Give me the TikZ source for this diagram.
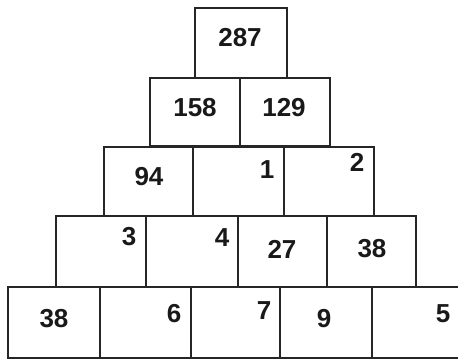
\documentclass[tikz,border=0pt]{standalone}
\usepackage{fontspec}
\setmainfont{Liberation Sans}
\begin{document}
\begin{tikzpicture}[x=1pt,y=-1pt,
  cell/.style={draw=black!85, line width=2pt, rectangle, inner sep=0pt, outer sep=0pt},
  num/.style={inner sep=0pt, font=\fontsize{26}{28}\selectfont\bfseries, text=black!90}]
\useasboundingbox (0,0) rectangle (458,360);
% row 1
\node[cell, minimum width=92pt, minimum height=70pt] (a1) at (241,43) {};
% row 2
\node[cell, minimum width=90pt, minimum height=68pt] (b1) at (195,112) {};
\node[cell, minimum width=90pt, minimum height=68pt] (b2) at (285,112) {};
% row 3
\node[cell, minimum width=89pt, minimum height=69pt] (c1) at (148.5,181.5) {};
\node[cell, minimum width=91pt, minimum height=69pt] (c2) at (238.5,181.5) {};
\node[cell, minimum width=90pt, minimum height=69pt] (c3) at (329,181.5) {};
% row 4
\node[cell, minimum width=90pt, minimum height=71pt] (d1) at (101,251.5) {};
\node[cell, minimum width=92pt, minimum height=71pt] (d2) at (192,251.5) {};
\node[cell, minimum width=89pt, minimum height=71pt] (d3) at (282.5,251.5) {};
\node[cell, minimum width=89pt, minimum height=71pt] (d4) at (371.5,251.5) {};
% row 5
\node[cell, minimum width=92pt, minimum height=71pt] (e1) at (54,322.5) {};
\node[cell, minimum width=91pt, minimum height=71pt] (e2) at (145.5,322.5) {};
\node[cell, minimum width=89pt, minimum height=71pt] (e3) at (235.5,322.5) {};
\node[cell, minimum width=92pt, minimum height=71pt] (e4) at (326,322.5) {};
\node[cell, minimum width=92pt, minimum height=71pt] (e5) at (418,322.5) {};
% numbers
\node[num] (t287) at (240,38) {287};
\node[num] (t158) at (195,108) {158};
\node[num] (t129) at (284,108) {129};
\node[num] (t94) at (149,177) {94};
\node[num] (t1) at (267,170) {1};
\node[num] (t2) at (357,162) {2};
\node[num] (t3) at (129,237) {3};
\node[num] (t4) at (222,238) {4};
\node[num] (t27) at (282,249) {27};
\node[num] (t38a) at (372,249) {38};
\node[num] (t38b) at (54,319) {38};
\node[num] (t6) at (174,314) {6};
\node[num] (t7) at (264,311) {7};
\node[num] (t9) at (324,319) {9};
\node[num] (t5) at (443,314) {5};
\end{tikzpicture}
\end{document}
